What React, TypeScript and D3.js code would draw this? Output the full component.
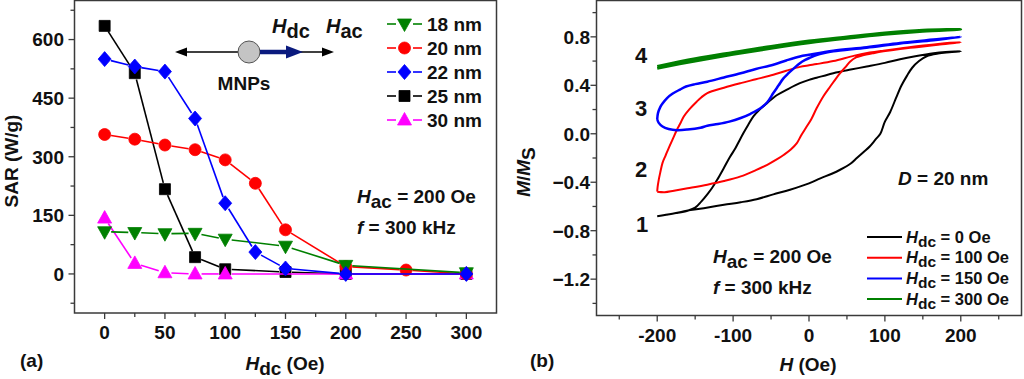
import React from 'react';
import * as d3 from 'd3';

// ---------- Panel (a) data ----------
const x18 = [0, 25, 50, 75, 100, 150, 200, 300];
const sar18 = [108, 106, 103, 104, 89, 71, 22, 3];
const x20 = [0, 25, 50, 75, 100, 125, 150, 200, 250, 300];
const sar20 = [357, 345, 330, 318, 292, 232, 113, 19, 10, 0];
const x22 = [0, 25, 50, 75, 100, 125, 150, 200, 300];
const sar22 = [550, 531, 518, 398, 181, 56, 14, 0, 0];
const x25 = [0, 25, 50, 75, 100, 150, 200, 300];
const sar25 = [635, 514, 217, 43, 12, 5, 0, 0];
const x30 = [0, 25, 50, 75, 100, 200, 300];
const sar30 = [143, 27, 3, 0, 0, 0, 0];
const sizeLabels = ['18 nm', '20 nm', '22 nm', '25 nm', '30 nm'];

const aYMajor = [0, 150, 300, 450, 600];
const aYMinor = [-75, 75, 225, 375, 525, 675];
const aXMajor = [0, 50, 100, 150, 200, 250, 300];
const aXMinor = [25, 75, 125, 175, 225, 275];

// ---------- Panel (b) data: hysteresis loops [H, M/Ms] ----------
const loop0Lower: [number, number][] = [
  [-200, -0.68], [-180, -0.66], [-156, -0.63], [-135, -0.61], [-112, -0.586], [-90, -0.565],
  [-69, -0.54], [-47, -0.5], [-25, -0.462], [0, -0.41], [15, -0.368], [30, -0.33], [41, -0.297],
  [55, -0.245], [63, -0.2], [72, -0.15], [80, -0.105], [88, -0.045], [94, 0.0], [100, 0.1],
  [107, 0.18], [115, 0.3], [122, 0.4], [129, 0.478], [136, 0.545], [145, 0.6], [155, 0.64],
  [170, 0.662], [185, 0.672], [200, 0.68],
];
const loop0Upper: [number, number][] = [
  [200, 0.685], [180, 0.675], [164, 0.665], [140, 0.64], [120, 0.615], [100, 0.585], [76, 0.555],
  [55, 0.53], [32, 0.5], [10, 0.462], [0, 0.445], [-12, 0.418], [-29, 0.365], [-42, 0.32],
  [-55, 0.255], [-65, 0.2], [-73, 0.145], [-80, 0.075], [-86, 0.01], [-92, -0.06], [-97, -0.12],
  [-104, -0.19], [-112, -0.28], [-121, -0.38], [-128, -0.45], [-134, -0.5], [-142, -0.56],
  [-150, -0.61], [-160, -0.635], [-175, -0.655], [-190, -0.67], [-200, -0.68],
];
const loop100Lower: [number, number][] = [
  [-200, -0.478], [-190, -0.482], [-178, -0.47], [-160, -0.45], [-134, -0.42], [-112, -0.39],
  [-90, -0.352], [-70, -0.3], [-55, -0.256], [-42, -0.21], [-33, -0.173], [-24, -0.13],
  [-16, -0.077], [-10, -0.01], [-4, 0.05], [3, 0.12], [10, 0.21], [19, 0.31], [28, 0.39],
  [36, 0.46], [41, 0.5], [48, 0.55], [54, 0.595], [62, 0.63], [70, 0.645], [85, 0.665],
  [98, 0.68], [120, 0.7], [142, 0.715], [170, 0.735], [200, 0.755],
];
const loop100Upper: [number, number][] = [
  [200, 0.76], [170, 0.742], [142, 0.722], [120, 0.703], [98, 0.686], [80, 0.67], [60, 0.645],
  [32, 0.6], [10, 0.575], [0, 0.565], [-12, 0.552], [-30, 0.52], [-47, 0.487], [-70, 0.45],
  [-90, 0.418], [-112, 0.38], [-134, 0.336], [-142, 0.3], [-148, 0.265], [-158, 0.2],
  [-165, 0.143], [-170, 0.08], [-174, 0.033], [-180, -0.05], [-185, -0.12], [-189, -0.18],
  [-193, -0.24], [-196, -0.32], [-198, -0.38], [-199.5, -0.44], [-200, -0.478],
];
const loop150Lower: [number, number][] = [
  [-200, 0.12], [-198, 0.09], [-193, 0.06], [-185, 0.04], [-174, 0.03], [-160, 0.035],
  [-143, 0.05], [-134, 0.066], [-120, 0.08], [-105, 0.1], [-90, 0.13], [-77, 0.165],
  [-64, 0.21], [-55, 0.26], [-47, 0.336], [-40, 0.4], [-34, 0.455], [-27, 0.5], [-20, 0.54],
  [-12, 0.583], [-5, 0.61], [2, 0.63], [10, 0.65], [20, 0.666], [32, 0.68], [76, 0.71],
  [120, 0.745], [164, 0.772], [200, 0.8],
];
const loop150Upper: [number, number][] = [
  [200, 0.806], [164, 0.778], [120, 0.75], [76, 0.714], [32, 0.686], [0, 0.652], [-12, 0.638],
  [-30, 0.605], [-47, 0.57], [-70, 0.535], [-90, 0.5], [-112, 0.465], [-134, 0.43],
  [-150, 0.41], [-162, 0.39], [-170, 0.365], [-180, 0.33], [-187, 0.295], [-193, 0.25],
  [-196, 0.22], [-199, 0.17], [-200, 0.12],
];
const loop300Lower: [number, number][] = [
  [-200, 0.54], [-150, 0.6], [-100, 0.655], [-50, 0.705], [0, 0.75], [50, 0.787], [100, 0.82],
  [150, 0.845], [200, 0.862],
];
const loop300Upper: [number, number][] = [
  [200, 0.872], [150, 0.855], [100, 0.832], [50, 0.8], [0, 0.766], [-50, 0.722], [-100, 0.672],
  [-150, 0.62], [-200, 0.556],
];
const hdcLabels = ['0 Oe', '100 Oe', '150 Oe', '300 Oe'];

const bYMajor = [-1.2, -0.8, -0.4, 0, 0.4, 0.8];
const bYMinor = [-1.4, -1.0, -0.6, -0.2, 0.2, 0.6, 1.0];
const bXMajor = [-200, -100, 0, 100, 200];
const bXMinor = [-250, -150, -50, 50, 150, 250];

// ---------- styling ----------
const FONT = '"Liberation Sans", Arial, Helvetica, sans-serif';
const FRAME = '#3a3a3a';
const GREEN = '#008000';
const RED = '#ff0000';
const BLUE = '#0000ff';
const BLACK = '#000000';
const MAGENTA = '#ff00ff';
const FS = 19;

type Shape = 'square' | 'circle' | 'diamond' | 'up' | 'down';

function markerPath(shape: Shape): string {
  switch (shape) {
    case 'square':
      return 'M-5.5,-5.5H5.5V5.5H-5.5Z';
    case 'circle':
      return 'M6,0A6,6 0 1,1 -6,0A6,6 0 1,1 6,0Z';
    case 'diamond':
      return 'M0,-7.5L6.5,0L0,7.5L-6.5,0Z';
    case 'up':
      return 'M0,-7.5L7,5L-7,5Z';
    case 'down':
      return 'M0,7.5L7,-5L-7,-5Z';
  }
}

function gappedSegments(pts: [number, number][], gap: number) {
  const segs: [number, number, number, number][] = [];
  for (let i = 0; i < pts.length - 1; i++) {
    const [x1, y1] = pts[i];
    const [x2, y2] = pts[i + 1];
    const dx = x2 - x1, dy = y2 - y1;
    const L = Math.hypot(dx, dy);
    if (L <= 2 * gap + 1) continue;
    const ux = dx / L, uy = dy / L;
    segs.push([x1 + ux * gap, y1 + uy * gap, x2 - ux * gap, y2 - uy * gap]);
  }
  return segs;
}

export default function App() {
  const xA = d3.scaleLinear().domain([-25, 325]).range([74.5, 496.5]);
  const yA = d3.scaleLinear().domain([-100, 700]).range([313, 0.5]);
  const xB = d3.scaleLinear().domain([-280, 280]).range([596.5, 1021.5]);
  const yB = d3.scaleLinear().domain([-1.5, 1.1]).range([315.5, 0.5]);

  const seriesA = [
    { xs: x25, ys: sar25, color: BLACK, shape: 'square' as Shape },
    { xs: x30, ys: sar30, color: MAGENTA, shape: 'up' as Shape },
    { xs: x20, ys: sar20, color: RED, shape: 'circle' as Shape },
    { xs: x18, ys: sar18, color: GREEN, shape: 'down' as Shape },
    { xs: x22, ys: sar22, color: BLUE, shape: 'diamond' as Shape },
  ];
  const legendA = [
    { color: GREEN, shape: 'down' as Shape, label: sizeLabels[0] },
    { color: RED, shape: 'circle' as Shape, label: sizeLabels[1] },
    { color: BLUE, shape: 'diamond' as Shape, label: sizeLabels[2] },
    { color: BLACK, shape: 'square' as Shape, label: sizeLabels[3] },
    { color: MAGENTA, shape: 'up' as Shape, label: sizeLabels[4] },
  ];

  const loopLine = d3
    .line<[number, number]>()
    .x((d) => xB(d[0]))
    .y((d) => yB(d[1]))
    .curve(d3.curveCatmullRom.alpha(0.5));

  const loops = [
    { pts: [...loop0Lower, ...loop0Upper.slice(1)], color: BLACK, w: 2 },
    { pts: [...loop100Lower, ...loop100Upper.slice(1)], color: RED, w: 2 },
    { pts: [...loop150Lower, ...loop150Upper.slice(1)], color: BLUE, w: 2.5 },
    { pts: [...loop300Lower, ...loop300Upper.slice(1)], color: GREEN, w: 2.8 },
  ];
  const legendB = [BLACK, RED, BLUE, GREEN];

  const txt = { fontFamily: FONT, fontWeight: 700, fontSize: FS, fill: '#111' } as const;

  return (
    <svg
      width={1024}
      height={379}
      viewBox="0 0 1024 379"
      style={{ position: 'absolute', left: 0, top: 0, background: '#fff' }}
    >
      <rect x={0} y={0} width={1024} height={379} fill="#fff" />

      {/* ================= Panel (a) ================= */}
      <g>
        {aYMajor.map((v) => (
          <g key={'ay' + v}>
            <line x1={xA(-25) - 6} x2={xA(-25)} y1={yA(v)} y2={yA(v)} stroke={FRAME} strokeWidth={1.3} />
            <text x={64} y={yA(v)} dy="0.36em" textAnchor="end" {...txt}>
              {v}
            </text>
          </g>
        ))}
        {aYMinor.map((v) => (
          <line key={'aym' + v} x1={xA(-25) - 4} x2={xA(-25)} y1={yA(v)} y2={yA(v)} stroke={FRAME} strokeWidth={1.3} />
        ))}
        {aXMajor.map((v) => (
          <g key={'ax' + v}>
            <line x1={xA(v)} x2={xA(v)} y1={yA(-100)} y2={yA(-100) + 6} stroke={FRAME} strokeWidth={1.3} />
            <text x={xA(v)} y={339} textAnchor="middle" {...txt}>
              {v}
            </text>
          </g>
        ))}
        {aXMinor.map((v) => (
          <line key={'axm' + v} x1={xA(v)} x2={xA(v)} y1={yA(-100)} y2={yA(-100) + 4} stroke={FRAME} strokeWidth={1.3} />
        ))}

        {seriesA.map((s, si) => {
          const pts = s.xs.map((x, i) => [xA(x), yA(s.ys[i])] as [number, number]);
          return (
            <g key={'sa' + si}>
              {gappedSegments(pts, 6.5).map((g, gi) => (
                <line key={gi} x1={g[0]} y1={g[1]} x2={g[2]} y2={g[3]} stroke={s.color} strokeWidth={1.6} />
              ))}
              {pts.map((p, pi) => (
                <path
                  key={'m' + pi}
                  d={markerPath(s.shape)}
                  transform={`translate(${p[0]},${p[1]})`}
                  fill={s.color}
                  stroke={s.color}
                  strokeWidth={0.8}
                />
              ))}
            </g>
          );
        })}

        {legendA.map((l, i) => {
          const y = 24 + i * 24;
          return (
            <g key={'la' + i}>
              <line x1={387} x2={396} y1={y} y2={y} stroke={l.color} strokeWidth={1.6} />
              <line x1={413} x2={422} y1={y} y2={y} stroke={l.color} strokeWidth={1.6} />
              <path d={markerPath(l.shape)} transform={`translate(404.5,${y})`} fill={l.color} stroke={l.color} strokeWidth={0.8} />
              <text x={427} y={y + 6.5} {...txt}>
                {l.label}
              </text>
            </g>
          );
        })}

        {/* MNP sketch */}
        <line x1={182} x2={326} y1={52} y2={52} stroke="#000" strokeWidth={1.6} />
        <path d="M175,52L187,47.5L187,56.5Z" fill="#000" />
        <path d="M334,52L322,47.5L322,56.5Z" fill="#000" />
        <circle cx={249} cy={52} r={11} fill="#c4c4c4" stroke="#555" strokeWidth={1} />
        <line x1={260} x2={290} y1={52} y2={52} stroke="#0a1a7e" strokeWidth={4.5} />
        <path d="M303,52L286,45.5L286,58.5Z" fill="#0a1a7e" />
        <text x={272} y={33} {...txt} fontSize={20}>
          <tspan fontStyle="italic">H</tspan>
          <tspan dy={5}>dc</tspan>
        </text>
        <text x={326} y={33} {...txt} fontSize={20}>
          <tspan fontStyle="italic">H</tspan>
          <tspan dy={5}>ac</tspan>
        </text>
        <text x={244} y={90} textAnchor="middle" {...txt}>
          MNPs
        </text>

        <text x={357} y={203} {...txt}>
          <tspan fontStyle="italic">H</tspan>
          <tspan dy={5}>ac</tspan>
          <tspan dy={-5}> = 200 Oe</tspan>
        </text>
        <text x={357} y={234} {...txt}>
          <tspan fontStyle="italic">f</tspan>
          <tspan> = 300 kHz</tspan>
        </text>

        <rect x={74.5} y={0.5} width={422} height={312.5} fill="none" stroke={FRAME} strokeWidth={1.5} />

        <text transform="translate(18,161) rotate(-90)" textAnchor="middle" {...txt}>
          SAR (W/g)
        </text>
        <text x={285} y={370} textAnchor="middle" {...txt}>
          <tspan fontStyle="italic">H</tspan>
          <tspan dy={5}>dc</tspan>
          <tspan dy={-5}> (Oe)</tspan>
        </text>
        <text x={20} y={367} {...txt}>
          (a)
        </text>
      </g>

      {/* ================= Panel (b) ================= */}
      <g>
        {bYMajor.map((v) => (
          <g key={'by' + v}>
            <line x1={xB(-280) - 6} x2={xB(-280)} y1={yB(v)} y2={yB(v)} stroke={FRAME} strokeWidth={1.3} />
            <text x={590} y={yB(v)} dy="0.36em" textAnchor="end" {...txt}>
              {d3.format('.1f')(v)}
            </text>
          </g>
        ))}
        {bYMinor.map((v) => (
          <line key={'bym' + v} x1={xB(-280) - 4} x2={xB(-280)} y1={yB(v)} y2={yB(v)} stroke={FRAME} strokeWidth={1.3} />
        ))}
        {bXMajor.map((v) => (
          <g key={'bx' + v}>
            <line x1={xB(v)} x2={xB(v)} y1={yB(-1.5)} y2={yB(-1.5) + 6} stroke={FRAME} strokeWidth={1.3} />
            <text x={xB(v)} y={342} textAnchor="middle" {...txt}>
              {v}
            </text>
          </g>
        ))}
        {bXMinor.map((v) => (
          <line key={'bxm' + v} x1={xB(v)} x2={xB(v)} y1={yB(-1.5)} y2={yB(-1.5) + 4} stroke={FRAME} strokeWidth={1.3} />
        ))}

        {loops.map((l, i) => (
          <path key={'loop' + i} d={loopLine(l.pts) || ''} fill="none" stroke={l.color} strokeWidth={l.w} strokeLinejoin="round" />
        ))}

        {['4', '3', '2', '1'].map((n, i) => (
          <text key={'n' + n} x={[641, 641, 641, 642][i]} y={[63, 116, 177, 232][i]} textAnchor="middle" {...txt} fontSize={22}>
            {n}
          </text>
        ))}

        <text x={898} y={185} {...txt}>
          <tspan fontStyle="italic">D</tspan>
          <tspan> = 20 nm</tspan>
        </text>
        <text x={713} y={263} {...txt}>
          <tspan fontStyle="italic">H</tspan>
          <tspan dy={5}>ac</tspan>
          <tspan dy={-5}> = 200 Oe</tspan>
        </text>
        <text x={713} y={294} {...txt}>
          <tspan fontStyle="italic">f</tspan>
          <tspan> = 300 kHz</tspan>
        </text>

        {legendB.map((c, i) => {
          const y = 237 + i * 20.7;
          return (
            <g key={'lb' + i}>
              <line x1={867} x2={902} y1={y} y2={y} stroke={c} strokeWidth={2} />
              <text x={906} y={y + 5.5} {...txt} fontSize={16.5}>
                <tspan fontStyle="italic">H</tspan>
                <tspan dy={4} fontSize={15.5}>dc</tspan>
                <tspan dy={-4}>{' = ' + hdcLabels[i]}</tspan>
              </text>
            </g>
          );
        })}

        <rect x={596.5} y={0.5} width={425} height={315} fill="none" stroke={FRAME} strokeWidth={1.5} />

        <text transform="translate(530,172) rotate(-90)" textAnchor="middle" {...txt}>
          <tspan fontStyle="italic">M</tspan>
          <tspan>/</tspan>
          <tspan fontStyle="italic">M</tspan>
          <tspan dy={5}>S</tspan>
        </text>
        <text x={808} y={371} textAnchor="middle" {...txt}>
          <tspan fontStyle="italic">H</tspan>
          <tspan> (Oe)</tspan>
        </text>
        <text x={530} y={367} {...txt}>
          (b)
        </text>
      </g>
    </svg>
  );
}
